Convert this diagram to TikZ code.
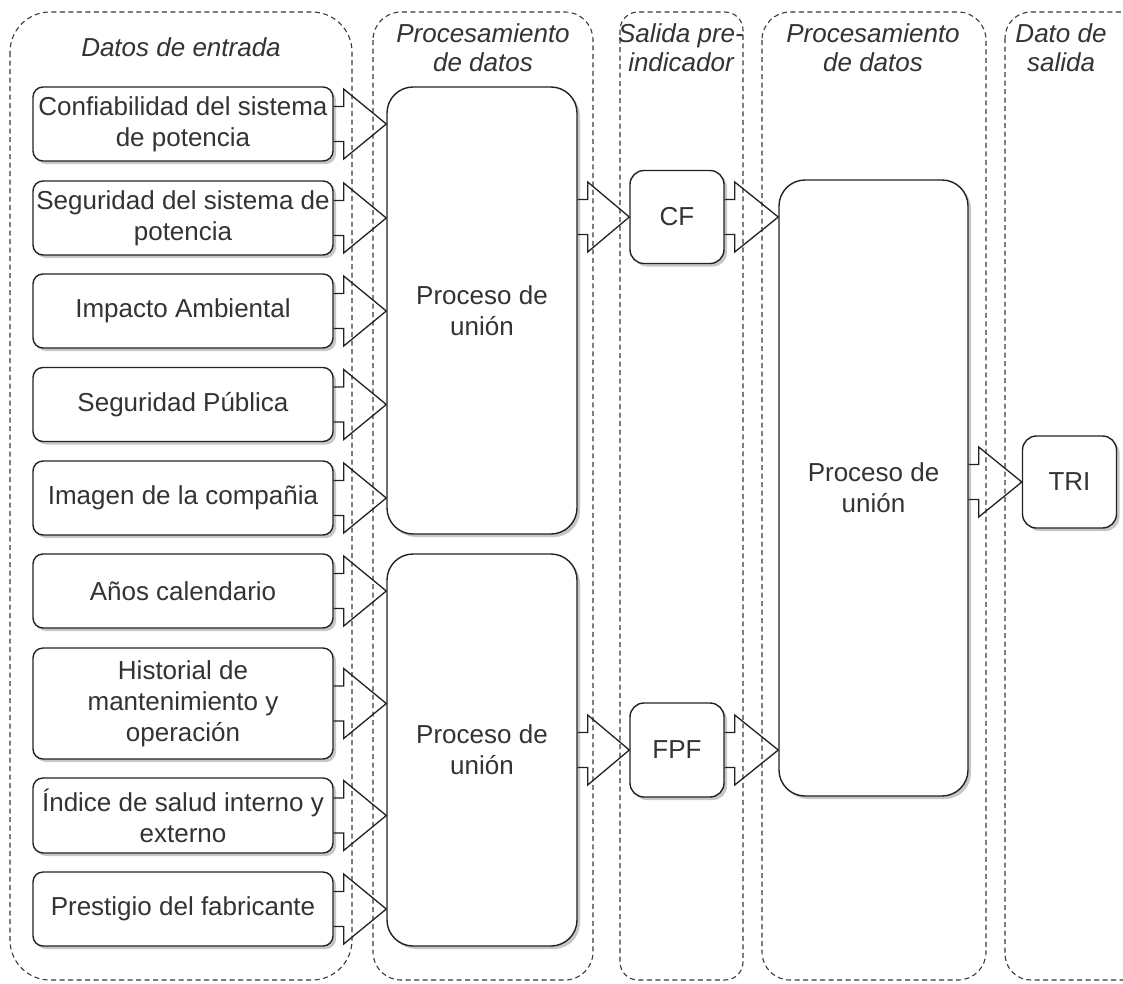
\documentclass[tikz,border=0pt]{standalone}
\usepackage{fontspec}
\setmainfont{Liberation Sans}
\usetikzlibrary{shadows,calc}

\definecolor{ink}{HTML}{333333}
\definecolor{edgecol}{HTML}{222222}
\definecolor{lanecol}{HTML}{3A3A3A}

\tikzset{
  txt/.style={font=\fontsize{26}{31}\selectfont, text=ink, align=center},
  boxshadow/.style={drop shadow={shadow xshift=3pt, shadow yshift=-3pt, fill=black, opacity=0.22}},
  inbox/.style={txt, draw=edgecol, line width=1.4pt, fill=white, rounded corners=10pt,
    minimum width=300pt, minimum height=74pt, inner sep=0pt, boxshadow},
  procbox/.style={txt, draw=edgecol, line width=1.4pt, fill=white, rounded corners=26pt,
    minimum width=190pt, inner sep=0pt, boxshadow},
  smallbox/.style={txt, draw=edgecol, line width=1.4pt, fill=white, rounded corners=14pt,
    minimum width=94pt, minimum height=93pt, inner sep=0pt, boxshadow},
  lane/.style={draw=lanecol, line width=1.1pt, dash pattern=on 5pt off 3.5pt},
  lanetitle/.style={txt, font=\fontsize{26}{29}\selectfont\itshape, inner sep=0pt},
  blockarrow/.style={draw=edgecol, line width=1.3pt, line join=miter},
}

% Hollow block arrow from the first point to the tip at the second point
\newcommand\flowarrow[2]{%
  \draw[blockarrow] let \p1=(#1), \p2=(#2) in
    (\x1,\y1+17.5pt) -- (\x1+10pt,\y1+17.5pt) -- (\x1+10pt,\y1+35pt) -- (\x2,\y2)
    -- (\x1+10pt,\y1-35pt) -- (\x1+10pt,\y1-17.5pt) -- (\x1,\y1-17.5pt);}

\begin{document}
\begin{tikzpicture}[x=1pt, y=-1pt]
\useasboundingbox[fill=white] (0,0) rectangle (1123,983);

% swim lanes
\begin{scope}
  \clip (0,0) rectangle (1123,983);
  \draw[lane, rounded corners=40pt] (10,12) rectangle (352,980);
  \draw[lane, rounded corners=28pt] (373,12) rectangle (593,980);
  \draw[lane, rounded corners=18pt] (620,12) rectangle (743,980);
  \draw[lane, rounded corners=28pt] (762,12) rectangle (986,980);
  \draw[lane, rounded corners=26pt] (1005,12) rectangle (1200,980);
\end{scope}

% lane titles
\node[lanetitle] (t1) at (181,47) {Datos de entrada};
\node[lanetitle] (t2) at (483,48) {Procesamiento\\de datos};
\node[lanetitle] (t3) at (681,48) {Salida pre-\\indicador};
\node[lanetitle] (t4) at (873,48) {Procesamiento\\de datos};
\node[lanetitle] (t5) at (1061,48) {Dato de\\salida};

% input data
\node[inbox] (i1) at (183,124) {Confiabilidad del sistema\\de potencia};
\node[inbox] (i2) at (183,218) {Seguridad del sistema de\\potencia};
\node[inbox] (i3) at (183,311) {Impacto Ambiental};
\node[inbox] (i4) at (183,404.5) {Seguridad Pública};
\node[inbox] (i5) at (183,498) {Imagen de la compañia};
\node[inbox] (i6) at (183,591) {Años calendario};
\node[inbox, minimum height=111pt] (i7) at (183,703.5) {Historial de\\mantenimiento y\\operación};
\node[inbox, minimum height=75pt] (i8) at (183,815.5) {Índice de salud interno y\\externo};
\node[inbox] (i9) at (183,909) {Prestigio del fabricante};

% processing
\node[procbox, minimum height=447pt] (p1) at (482,310.5) {Proceso de\\unión};
\node[procbox, minimum height=392pt] (p2) at (482,750) {Proceso de\\unión};
\node[smallbox] (cf) at (677,217) {CF};
\node[smallbox, minimum height=94pt] (fpf) at (677,750) {FPF};
\node[procbox, minimum width=189pt, minimum height=616pt] (p3) at (873.5,488) {Proceso de\\unión};
\node[smallbox, minimum height=92pt] (tri) at (1069.5,482) {TRI};

% connectors
\foreach \i in {1,...,5} {\flowarrow{i\i.east}{p1.west |- i\i.east}}
\foreach \i in {6,...,9} {\flowarrow{i\i.east}{p2.west |- i\i.east}}
\flowarrow{p1.east |- cf.west}{cf.west}
\flowarrow{p2.east |- fpf.west}{fpf.west}
\flowarrow{cf.east}{p3.west |- cf.east}
\flowarrow{fpf.east}{p3.west |- fpf.east}
\flowarrow{p3.east |- tri.west}{tri.west}
\end{tikzpicture}
\end{document}
